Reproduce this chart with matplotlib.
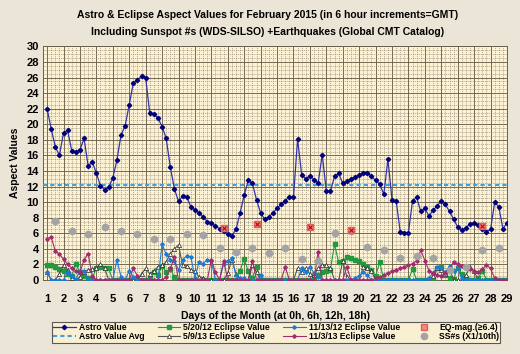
import numpy as np
import matplotlib
matplotlib.use("Agg")
import matplotlib.pyplot as plt
from matplotlib.ticker import MultipleLocator

plt.rcParams['font.family'] = ['Liberation Sans', 'DejaVu Sans']
plt.rcParams['font.weight'] = 'bold'

# --- Data (6 hour steps, day 1 0h .. day 29 0h) ---
astro = [
    22.0, 19.4, 17.1, 16.0,   # 1
    18.9, 19.2, 16.6, 16.5,   # 2
    16.7, 18.2, 14.6, 15.2,   # 3
    13.7, 12.1, 11.6, 11.9,   # 4
    13.1, 15.4, 18.6, 19.8,   # 5
    22.5, 25.3, 25.7, 26.2,   # 6
    26.0, 21.4, 21.3, 20.8,   # 7
    19.7, 18.2, 14.5, 11.7,   # 8
    10.1, 10.8, 10.7, 9.4,    # 9
    9.0, 8.6, 8.1, 7.5,       # 10
    7.3, 6.9, 6.6, 6.3,       # 11
    5.9, 5.7, 6.5, 8.6,       # 12
    10.9, 12.8, 12.4, 10.3,   # 13
    8.6, 7.8, 8.1, 8.6,       # 14
    9.2, 9.7, 10.2, 10.7,     # 15
    10.6, 18.1, 13.5, 13.0,   # 16
    13.4, 12.9, 12.4, 16.1,   # 17
    11.4, 11.4, 13.3, 13.7,   # 18
    12.4, 12.7, 13.0, 13.2,   # 19
    13.5, 13.8, 13.8, 13.3,   # 20
    12.8, 12.3, 11.0, 15.5,   # 21
    10.3, 10.2, 6.2, 6.1,     # 22
    6.1, 10.2, 10.6, 8.8,     # 23
    9.2, 8.2, 9.0, 9.5,       # 24
    10.2, 9.7, 8.8, 7.8,      # 25
    6.8, 6.4, 6.7, 7.2,       # 26
    7.3, 7.0, 6.6, 6.2,       # 27
    6.5, 10.0, 9.4, 6.6,      # 28
    7.3,                      # 29
]
astro_avg = 12.2

ecl_5_20_12 = [
    1.9, 1.9, 1.7, 1.4,  1.1, 0.8, 0.5, 2.1,  1.0, 0.5, 0.3, 0.1,  1.6, 1.7, 1.6, 1.5,
    0, 0, 0, 0,  0, 0, 0, 0,  0, 0.3, 1.0, 0.6,  1.8, 1.0, 1.4, 0.4,
    0, 0, 0, 0,  0, 0, 0, 0,  0, 0, 0, 0,  0, 0, 0, 1.2,
    2.7, 1.1, 0.3, 1.7,  0, 0, 0, 0,  0, 0, 0, 0,  0, 0, 0, 0,
    0, 0.4, 0.6, 1.0,  1.1, 1.3, 4.6, 2.3,  2.4, 2.9, 2.8, 2.6,  2.4, 2.0, 1.7, 1.3,
    0.5, 2.3, 0, 0,  0, 0, 0, 0,  0, 1.4, 0, 0,  0, 0, 0.1, 1.5,
    1.7, 0.6, 0.3, 0.1,  1.6, 0.8, 0.3, 0,  0, 0.2, 1.2, 0,  0, 0, 0, 0,
    0,
]
ecl_11_13_12 = [
    1.0, 0, 0, 0,  0, 1.0, 0.5, 0.1,  1.2, 1.2, 0, 0,  0, 0, 0, 0,
    0, 2.6, 0.4, 0,  1.2, 0.4, 0, 0,  0, 0, 0, 0,  4.6, 3.3, 2.6, 2.5,
    1.3, 2.6, 3.1, 3.0,  0.3, 2.3, 2.1, 2.6,  2.4, 0, 0, 2.1,  2.4, 2.8, 0.6, 0.3,
    0.2, 0, 0, 0,  0.6, 0, 0, 0,  0, 0, 0, 0,  0, 0, 1.5, 1.0,
    1.7, 0.9, 0.4, 0,  0, 0, 0, 0,  0, 0, 0, 0.3,  0.5, 1.0, 0.6, 0,
    0, 0, 0, 0,  0, 0, 0, 0,  0, 0, 0, 0,  0, 0.3, 0.9, 1.7,
    1.5, 1.0, 1.8, 1.2,  1.5, 0.2, 0, 0,  0, 0, 0, 0,  0, 0, 0, 0,
    0,
]
ecl_5_9_13 = [
    1.0, 0, 0, 0.8,  1.9, 1.3, 0.2, 0,  0.4, 1.0, 1.3, 1.4,  1.5, 2.0, 1.5, 0,
    0, 0, 0, 0,  0, 0, 0, 0.8,  1.5, 0.8, 1.2, 1.7,  1.9, 2.3, 3.4, 4.0,
    4.5, 1.9, 1.8, 1.3,  1.1, 0.4, 0.3, 0,  0, 0, 0, 0,  0.9, 2.6, 0.8, 0,
    0, 0, 1.9, 1.0,  0, 0, 0, 0,  0, 0, 0, 0,  0, 1.5, 1.0, 1.5,
    0.8, 0.6, 1.5, 1.9,  1.9, 1.5, 0, 0,  2.4, 0.4, 0, 0,  0, 1.7, 1.5, 1.1,
    0, 0, 0, 0,  0, 0, 0, 0,  0, 0, 0, 0,  0, 0, 0.5, 1.5,
    1.3, 0.8, 1.5, 0,  0, 0, 0.6, 1.7,  1.1, 0, 0, 0,  0, 0, 0, 0,
    0,
]
ecl_11_3_13 = [
    5.3, 5.5, 3.7, 3.3,  2.7, 2.0, 1.5, 1.2,  1.0, 2.6, 3.4, 0.5,  0, 0, 0, 0,
    0, 0, 0, 0,  0, 1.5, 0.5, 0,  0, 0, 0, 0,  0, 0.4, 1.5, 2.9,
    0, 0, 0, 0,  0, 0, 0, 0,  2.6, 1.0, 0, 2.5,  0, 0, 0, 0,
    0, 0, 2.5, 0,  0, 0, 0, 0,  0, 0, 1.7, 0,  0, 0, 0, 0,
    0, 0, 3.6, 0,  0, 0, 0, 0,  0, 1.7, 0, 0,  0, 0, 0, 0,
    0.2, 0.4, 0.6, 0.9,  1.1, 1.3, 1.5, 1.7,  1.9, 2.1, 2.5, 3.8,  2.5, 1.2, 0.9, 0.6,
    0.5, 0.9, 1.5, 2.3,  2.0, 1.8, 1.6, 1.4,  1.2, 1.0, 1.4, 1.9,  1.5, 0.2, 0, 0,
    0,
]

eq_days = [11.75, 13.75, 17.0, 19.5, 27.5]
eq_mag = [6.7, 7.2, 6.8, 6.4, 6.9]

ss_days = [1.5, 2.5, 3.5, 4.5, 5.5, 6.5, 7.5, 8.5, 9.5, 10.5, 11.5, 12.5, 13.5, 14.5,
           15.5, 16.5, 17.5, 18.5, 19.5, 20.5, 21.5, 22.5, 23.5, 24.5, 25.5, 26.5,
           27.5, 28.5]
ss_tenth = [7.6, 6.3, 5.9, 6.8, 6.3, 5.9, 5.3, 5.3, 5.9, 5.8, 4.1, 3.6, 4.1, 3.5,
            4.1, 2.7, 2.4, 6.0, 6.3, 4.3, 3.85, 2.8, 3.1, 2.8, 1.3, 1.7, 3.8, 4.1]

days = 1 + np.arange(len(astro)) * 0.25

# --- Figure ---
fig = plt.figure(figsize=(5.2, 3.54), dpi=100, facecolor="#ebe5d7")
ax = fig.add_axes([0.083, 0.209, 0.892, 0.660])
ax.set_facecolor("#fdf3d4")

ax.plot(days, ecl_5_20_12, color="#1f9a3c", lw=0.8, marker="s", ms=2.2,
        label="5/20/12 Eclipse Value", zorder=3)
ax.plot(days, ecl_5_9_13, color="#555555", lw=0.8, marker="^", ms=3,
        mfc="white", mec="#222222", mew=0.5, label="5/9/13 Eclipse Value", zorder=3)
ax.plot(days, ecl_11_13_12, color="#1c7ad8", lw=0.8, marker="D", ms=1.8,
        label="11/13/12 Eclipse Value", zorder=3)
ax.plot(days, ecl_11_3_13, color="#a02c6e", lw=0.8, marker="D", ms=1.8,
        label="11/3/13 Eclipse Value", zorder=3)
ax.plot(ss_days, ss_tenth, ls="none", marker="o", ms=4.5, color="#a3a3a3",
        label="SS#s (X1/10th)", zorder=3)
ax.axhline(astro_avg, color="#3fa0e0", lw=1.5, ls=(0, (2, 1.5)),
           label="Astro Value Avg", zorder=4)
ax.plot(days, astro, color="#3333a8", lw=0.9, marker="D", ms=2.2,
        mfc="#00007a", mec="#00007a", label="Astro Value", zorder=5)
ax.plot(eq_days, eq_mag, ls="none", marker="s", ms=5, mfc="#f08a80",
        mec="#e06060", label="EQ-mag.(\u22656.4)", zorder=6)
ax.plot(eq_days, eq_mag, ls="none", marker="x", ms=3, color="#c00000",
        mew=0.8, zorder=7)

ax.set_xlim(0.76, 29.0)
ax.set_ylim(0, 30)
ax.xaxis.set_major_locator(MultipleLocator(1))
ax.xaxis.set_minor_locator(MultipleLocator(0.25))
ax.yaxis.set_major_locator(MultipleLocator(2))
ax.yaxis.set_minor_locator(MultipleLocator(0.5))
ax.grid(which="major", color="#6a604c", lw=0.65)
ax.grid(which="minor", color="#8c8270", lw=0.4, ls=(0, (2, 1.5)))
ax.set_axisbelow(True)
ax.tick_params(which="both", length=0, labelsize=8)
ax.tick_params(axis="x", pad=10)
ax.tick_params(axis="y", pad=3)
for s in ax.spines.values():
    s.set_color("#6a604c")
    s.set_linewidth(0.7)

ax.set_ylabel("Aspect Values", fontsize=7.5, fontweight="bold", labelpad=5)
ax.set_xlabel("Days of the Month (at 0h, 6h, 12h, 18h)", fontsize=7.5,
              fontweight="bold", labelpad=5)
fig.text(0.515, 0.957, "Astro & Eclipse Aspect Values for February 2015 (in 6 hour increments=GMT)",
         ha="center", va="center", fontsize=7.5, fontweight="bold")
fig.text(0.515, 0.910, "Including Sunspot #s (WDS-SILSO) +Earthquakes (Global CMT Catalog)",
         ha="center", va="center", fontsize=7.5, fontweight="bold")

h, l = ax.get_legend_handles_labels()
order = ["Astro Value", "Astro Value Avg", "5/20/12 Eclipse Value", "5/9/13 Eclipse Value",
         "11/13/12 Eclipse Value", "11/3/13 Eclipse Value", "EQ-mag.(\u22656.4)", "SS#s (X1/10th)"]
hd = dict(zip(l, h))
leg = fig.legend([hd[k] for k in order], order, loc="lower center",
                 bbox_to_anchor=(0.531, 0.02), ncol=4, fontsize=6.2,
                 frameon=True, fancybox=False, handlelength=2.6,
                 columnspacing=1.5, handletextpad=0.4, labelspacing=0.05,
                 borderpad=0.15)
leg.get_frame().set_facecolor("#fdf3d4")
leg.get_frame().set_edgecolor("#333333")
leg.get_frame().set_linewidth(0.8)

fig.savefig("out.png", dpi=100, facecolor=fig.get_facecolor())
